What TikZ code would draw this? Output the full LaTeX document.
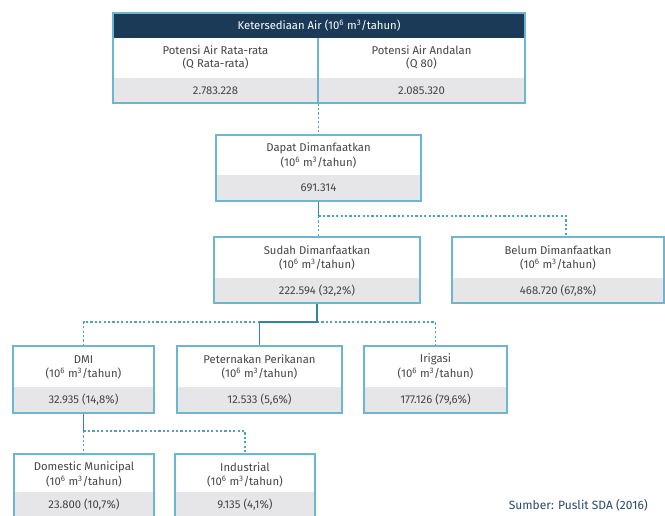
\documentclass[tikz,border=0pt]{standalone}
\usepackage{fontspec}
\setmainfont{Fira Sans}
\definecolor{navy}{HTML}{1B3A57}
\definecolor{edge}{HTML}{6DB6D0}
\definecolor{greyc}{HTML}{E6E6E8}
\definecolor{txt}{HTML}{454545}
\definecolor{link}{HTML}{4AA3C2}
\definecolor{linkd}{HTML}{2F86A6}
\definecolor{srcc}{HTML}{2B4A66}
\newcommand\unitline{(10\textsuperscript{6} m\textsuperscript{3}/tahun)}
% name, x1, y1, x2, y2, ygrey, line1, value
\newcommand\ubox[8]{%
  \fill[greyc] (#2,#6) rectangle (#4,#5);
  \node[box, minimum width={(#4-#2)*1pt}, minimum height={(#5-#3)*1pt}] (#1) at ({(#2+#4)/2},{(#3+#5)/2}) {};
  \node[lbl] (#1-a) at ({(#2+#4)/2},{#3+13.5}) {#7};
  \node[lbl] (#1-b) at ({(#2+#4)/2},{#3+28}) {\unitline};
  \node[lbl] (#1-v) at ({(#2+#4)/2},{#6+12.5}) {#8};
}
\begin{document}
\begin{tikzpicture}[x=1pt,y=-1pt,
  box/.style={draw=edge, line width=1.3pt, inner sep=0pt},
  lbl/.style={text=txt, font=\fontsize{11.3}{13}\selectfont, inner sep=0pt, anchor=center},
  dot/.style={draw=link, line width=1.3pt, dash pattern=on 2.2pt off 2.2pt},
  sol/.style={draw=linkd, line width=1.6pt}]
\clip (0,0) rectangle (665,515);
\fill[white] (0,0) rectangle (665,515);
% top table
\fill[greyc] (113,78) rectangle (525,103);
\fill[navy] (113,13) rectangle (525,38);
\node[box, minimum width=412pt, minimum height=90pt] (top) at (319,58) {};
\draw[edge, line width=1.3pt] (318,38) -- (318,103);
\node[lbl, text=white] (top-h) at (319,25.5) {Ketersediaan Air (10\textsuperscript{6} m\textsuperscript{3}/tahun)};
\node[lbl] (top-l1) at (215.5,50) {Potensi Air Rata-rata};
\node[lbl] (top-l2) at (215.5,64) {(Q Rata-rata)};
\node[lbl] (top-lv) at (215.5,91) {2.783.228};
\node[lbl] (top-r1) at (421.5,50) {Potensi Air Andalan};
\node[lbl] (top-r2) at (421.5,64) {(Q 80)};
\node[lbl] (top-rv) at (421.5,91) {2.085.320};
% boxes
\ubox{dapat}{216}{135}{421}{201}{175}{Dapat Dimanfaatkan}{691.314}
\ubox{sudah}{214}{237}{420}{303}{278}{Sudah Dimanfaatkan}{222.594 (32,2\%)}
\ubox{belum}{452}{237}{664}{303}{278}{Belum Dimanfaatkan}{468.720 (67,8\%)}
\ubox{dmi}{13}{346}{154}{413}{387}{DMI}{32.935 (14,8\%)}
\ubox{pet}{177}{346}{342}{413}{387}{Peternakan Perikanan}{12.533 (5,6\%)}
\ubox{iri}{364}{346}{507}{413}{387}{Irigasi}{177.126 (79,6\%)}
\ubox{dom}{14}{454}{154}{530}{492}{Domestic Municipal}{23.800 (10,7\%)}
\ubox{ind}{175}{454}{315}{530}{492}{Industrial}{9.135 (4,1\%)}
% connectors
\draw[dot] (top.south -| dapat.north) -- (dapat.north);
\coordinate (j1) at (318.5,216);
\draw[sol] (dapat.south) -- (j1);
\draw[dot] (j1) -- (j1 |- sudah.north);
\draw[dot] (j1) -| ([xshift=8pt]belum.north);
\coordinate (j2) at (317,322);
\draw[dot] (j2) -| (dmi.north);
\draw[dot] (j2) -| (iri.north);
\draw[sol] (sudah.south) -- (j2) -| (pet.north);
\coordinate (j3) at (83.5,431);
\draw[sol] (dmi.south) -- (j3);
\draw[dot] (j3) -- (j3 |- dom.north);
\draw[dot] (j3) -| (ind.north);
% source
\node[anchor=base east, text=srcc, font=\fontsize{12}{14}\selectfont, inner sep=0pt] (src) at (648,509) {Sumber: Puslit SDA (2016)};
\end{tikzpicture}
\end{document}
